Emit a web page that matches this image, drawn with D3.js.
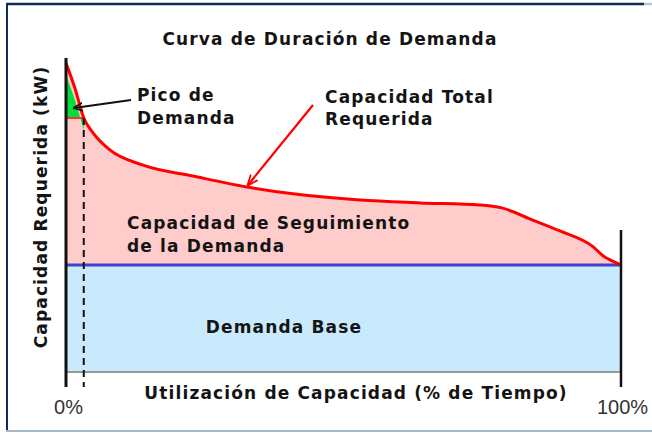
<!DOCTYPE html>
<html>
<head>
<meta charset="utf-8">
<script src="https://cdn.jsdelivr.net/npm/d3@7"></script>
<style>
  body { margin: 0; background: #fff; }
  .lbl { font-family: "DejaVu Sans", Verdana, sans-serif; font-weight: bold; font-size: 17px; letter-spacing: 1.15px; fill: #141414; }
  .tick text { font-family: "Liberation Sans", Arial, sans-serif; font-size: 20px; fill: #333; }
</style>
</head>
<body>
<div id="chart"></div>
<script>
const width = 652;
const height = 436;

// curva de duracion: % de tiempo vs capacidad (escala 0-100)
const pctTiempo = [0, 1.6, 3.2, 4.9, 7.9, 13.9, 22.9, 32.6, 40.9, 53, 63.8, 74.6, 78.5, 84.1, 89, 95, 96.8, 98.4, 100];
const capacidad = [99, 91, 81.4, 76.6, 71.2, 66.3, 62.8, 59.3, 57.1, 55.1, 54.2, 53.5, 52.6, 48.7, 45.2, 40.1, 37.2, 35.6, 34.3];
const demandaBase = 34.3;
const umbralPico = 81.4;
const pctPico = 3.2;
const tickValues = [0, 100];
const tickLabels = ['0%', '100%'];

const svg = d3.select('#chart')
    .append('svg')
    .attr('width', width)
    .attr('height', height);

const xScale = d3.scaleLinear().domain([0, 100]).range([66, 621]);
const yScale = d3.scaleLinear().domain([0, 100]).range([372, 60]);

const pts = pctTiempo.map(function (p, i) { return [p, capacidad[i]]; });

// marco
svg.append('line').attr('x1', 7).attr('x2', 7).attr('y1', 3).attr('y2', 431)
    .attr('stroke', '#0d2a5c').attr('stroke-width', 2);
svg.append('line').attr('x1', 6).attr('x2', 644).attr('y1', 4).attr('y2', 4)
    .attr('stroke', '#0d2a5c').attr('stroke-width', 2.5);
svg.append('line').attr('x1', 644).attr('x2', 652).attr('y1', 4).attr('y2', 4)
    .attr('stroke', '#b8c4d8').attr('stroke-width', 2.5);
svg.append('line').attr('x1', 6).attr('x2', 652).attr('y1', 431).attr('y2', 431)
    .attr('stroke', '#a8b6cc').attr('stroke-width', 2);

// demanda base
svg.append('rect')
    .attr('x', xScale(0)).attr('y', yScale(demandaBase))
    .attr('width', xScale(100) - xScale(0))
    .attr('height', yScale(0) - yScale(demandaBase))
    .attr('fill', '#c8eafc');

// seguimiento (area rosa)
const area = d3.area()
    .x(function (d) { return xScale(d[0]); })
    .y0(yScale(demandaBase))
    .y1(function (d) { return yScale(d[1]); })
    .curve(d3.curveMonotoneX);
svg.append('path').datum(pts).attr('d', area).attr('fill', '#ffcccc');

// pico (verde)
const picoPts = pts.filter(function (d) { return d[0] <= pctPico; });
const areaPico = d3.area()
    .x(function (d) { return xScale(d[0]); })
    .y0(yScale(umbralPico))
    .y1(function (d) { return yScale(d[1]) + 12; })
    .curve(d3.curveMonotoneX);
svg.append('path').datum(picoPts).attr('d', areaPico).attr('fill', '#00dd3c');

svg.append('line')
    .attr('x1', xScale(0)).attr('x2', xScale(pctPico))
    .attr('y1', yScale(umbralPico)).attr('y2', yScale(umbralPico))
    .attr('stroke', '#ff3030').attr('stroke-width', 2);

// linea de demanda base
svg.append('line')
    .attr('x1', xScale(0)).attr('x2', xScale(100))
    .attr('y1', yScale(demandaBase)).attr('y2', yScale(demandaBase))
    .attr('stroke', '#4040c8').attr('stroke-width', 3);

// curva total
const line = d3.line()
    .x(function (d) { return xScale(d[0]); })
    .y(function (d) { return yScale(d[1]); })
    .curve(d3.curveMonotoneX);
svg.append('path').datum(pts).attr('d', line)
    .attr('fill', 'none').attr('stroke', '#ff0000').attr('stroke-width', 3);

// linea base
svg.append('line')
    .attr('x1', xScale(0)).attr('x2', xScale(100))
    .attr('y1', yScale(0)).attr('y2', yScale(0))
    .attr('stroke', '#999').attr('stroke-width', 2);

// discontinua del pico
svg.append('line')
    .attr('x1', xScale(pctPico)).attr('x2', xScale(pctPico))
    .attr('y1', yScale(umbralPico)).attr('y2', 387)
    .attr('stroke', '#111').attr('stroke-width', 2)
    .attr('stroke-dasharray', '7,5');

// ejes verticales
svg.append('line')
    .attr('x1', xScale(0)).attr('x2', xScale(0))
    .attr('y1', yScale(100) - 2).attr('y2', 387)
    .attr('stroke', '#111').attr('stroke-width', 3);
svg.append('line')
    .attr('x1', xScale(100)).attr('x2', xScale(100))
    .attr('y1', 230).attr('y2', 387)
    .attr('stroke', '#111').attr('stroke-width', 2.5);

// etiquetas eje x
const xAxis = d3.axisBottom(xScale)
    .tickValues(tickValues)
    .tickFormat(function (d, i) { return tickLabels[i]; })
    .tickSize(0)
    .tickPadding(0);
const xAxisG = svg.append('g')
    .attr('transform', 'translate(0,' + 398 + ')')
    .call(xAxis);
xAxisG.select('.domain').remove();
xAxisG.selectAll('.tick text').attr('font-size', null).attr('font-family', null)
    .attr('fill', null).attr('dy', '0.8em');
xAxisG.select('.tick:first-of-type text').attr('dx', '0.1em');
xAxisG.select('.tick:last-of-type text').attr('dx', '0.05em');

// flechas
const defs = svg.append('defs');
function marker(id, color) {
    defs.append('marker')
        .attr('id', id).attr('viewBox', '0 0 10 10')
        .attr('refX', 9).attr('refY', 5)
        .attr('markerWidth', 5).attr('markerHeight', 5)
        .attr('orient', 'auto')
        .append('path').attr('d', 'M0,1 L10,5 L0,9')
        .attr('fill', 'none').attr('stroke', color).attr('stroke-width', 1.6);
}
marker('flechaNegra', '#111');
marker('flechaRoja', '#ff0000');

svg.append('line')
    .attr('x1', 131).attr('y1', 100).attr('x2', 74).attr('y2', 108)
    .attr('stroke', '#111').attr('stroke-width', 2)
    .attr('marker-end', 'url(#flechaNegra)');
svg.append('line')
    .attr('x1', 313).attr('y1', 105).attr('x2', 248).attr('y2', 185)
    .attr('stroke', '#ff0000').attr('stroke-width', 2.2)
    .attr('marker-end', 'url(#flechaRoja)');

// textos
function texto(x, y, t, anchor) {
    svg.append('text').attr('class', 'lbl')
        .attr('x', x).attr('y', y)
        .attr('text-anchor', anchor || 'start')
        .text(t);
}
texto(330, 45, 'Curva de Duración de Demanda', 'middle');
texto(137, 101, 'Pico de');
texto(137, 124, 'Demanda');
texto(325, 103, 'Capacidad Total');
texto(325, 125, 'Requerida');
texto(127, 229, 'Capacidad de Seguimiento');
texto(127, 252, 'de la Demanda');
texto(284, 333, 'Demanda Base', 'middle');
texto(356, 399, 'Utilización de Capacidad (% de Tiempo)', 'middle');

svg.append('text').attr('class', 'lbl')
    .attr('transform', 'translate(47,207) rotate(-90)')
    .attr('text-anchor', 'middle')
    .text('Capacidad Requerida (kW)');
</script>
</body>
</html>
